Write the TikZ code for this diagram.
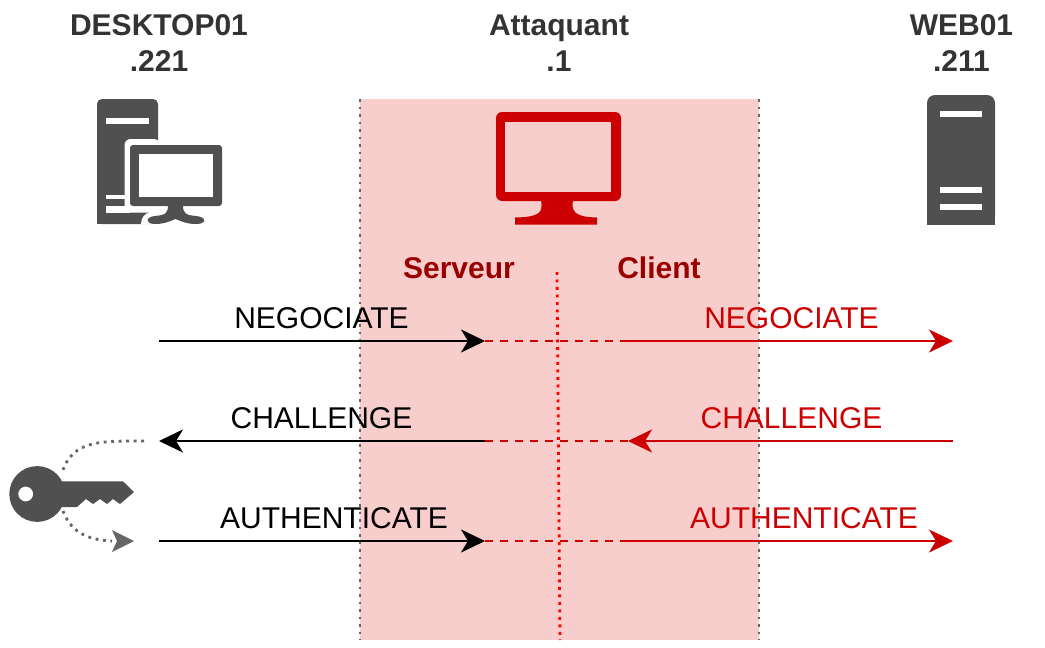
\documentclass[tikz,border=0pt]{standalone}
\usepackage{fontspec}
\setmainfont{Liberation Sans}
\usetikzlibrary{arrows.meta}

\definecolor{darktxt}{HTML}{333333}
\definecolor{icongray}{HTML}{505050}
\definecolor{redline}{HTML}{CC0000}
\definecolor{redtxt}{HTML}{990000}
\definecolor{redzone}{HTML}{F8CECC}
\definecolor{tipgray}{HTML}{666666}

\tikzset{
  title/.style={align=center, font=\fontsize{30}{36}\selectfont\bfseries, text=darktxt, inner sep=0pt},
  side/.style={font=\fontsize{30}{36}\selectfont\bfseries, text=redtxt, inner sep=0pt},
  msg/.style={font=\fontsize{30}{36}\selectfont, inner sep=0pt},
  msgred/.style={msg, text=redline},
  tipbig/.style={-{Stealth[length=24pt,width=23pt,inset=7pt]}},
  blackline/.style={draw=black, line width=2.8pt, tipbig},
  redsolid/.style={draw=redline, line width=2.8pt, tipbig, color=redline},
  reddash/.style={draw=redline, line width=2.8pt, dash pattern=on 8pt off 7pt},
  keypath/.style={draw=tipgray, line width=2.8pt, dash pattern=on 2.8pt off 4.7pt},
  zoneedge/.style={draw=black!60, line width=2.8pt, dash pattern=on 2.8pt off 4.7pt}
}

\begin{document}
\begin{tikzpicture}[x=1pt, y=-1pt]
\useasboundingbox (0,0) rectangle (1045,648);

% zone
\fill[redzone] (360,99) rectangle (759,640);
\coordinate (edge1top) at (360,99);
\coordinate (edge1bot) at (360,640);
\coordinate (edge2top) at (759,99);
\coordinate (edge2bot) at (759,640);
\draw[zoneedge] (edge1top) -- (edge1bot);
\draw[zoneedge] (edge2top) -- (edge2bot);

% titles
\node[title] (desktop) at (159,43) {DESKTOP01\\.221};
\node[title] (attacker) at (559,43) {Attaquant\\.1};
\node[title] (web) at (961.5,43) {WEB01\\.211};

% desktop icon
\fill[icongray, rounded corners=5pt] (97,99) rectangle (158,224);
\fill[icongray] (97,200) rectangle (158,224);
\fill[white] (106,118) rectangle (149,124);
\fill[white] (106,195) rectangle (130,199);
\fill[white] (106,206) rectangle (130,212.5);
\fill[white] (124.5,212.5) [rounded corners=6pt] -- (124.5,139) -- (160,139) [sharp corners] -- (160,212.5) -- cycle;
\fill[white] (150,212) .. controls (144,214) and (141,218) .. (141,224.5) -- (160,224.5) -- (160,212) -- cycle;
\fill[icongray, rounded corners=3pt] (130,145) rectangle (222,206);
\fill[white] (139,154) rectangle (213,197);
\fill[icongray] (168,205) .. controls (168,213) and (166,215) .. (155,216)
  .. controls (145,217) and (145,224) .. (155,224)
  .. controls (165,224) and (170,221) .. (175.5,219)
  .. controls (181,221) and (186,224) .. (196,224)
  .. controls (207,224) and (207,217) .. (196,216)
  .. controls (185,215) and (183,213) .. (183,205) -- cycle;

% attacker icon
\fill[redline, rounded corners=6pt] (496,112) rectangle (621,201);
\fill[redzone] (505,122) rectangle (611,192);
\fill[redline] (541,200) .. controls (543,212) and (541,217) .. (515,217.5)
  -- (515,224.5) -- (597,224.5) -- (597,217.5)
  .. controls (575,217) and (571,212) .. (573,200) -- cycle;

% server icon
\fill[icongray, rounded corners=8pt] (927,95) rectangle (995,224.5);
\fill[icongray] (927,200) rectangle (995,224.5);
\fill[white] (940,111) rectangle (982,117);
\fill[white] (940,187) rectangle (982,193);
\fill[white] (940,204) rectangle (982,210);

% key
\fill[icongray, even odd rule] (37.2,494) circle (27.9) (25.7,494) circle (7.5);
\fill[icongray] (60,481.3) -- (123,481.3) -- (134,492) -- (120,504) -- (113,499) -- (107,504)
  -- (100,499) -- (93,504) -- (86,499) -- (77,507) -- (60,507) -- cycle;

% side labels
\node[side] (serveur) at (459,268) {Serveur};
\node[side] (client) at (659,268) {Client};

% middle line
\coordinate (midtop) at (557,272);
\coordinate (midbot) at (560,640);
\draw[draw=red, line width=2.8pt, dash pattern=on 2.8pt off 4.7pt] (midtop) -- (midbot);

% end points
\coordinate (a1) at (159,341);
\coordinate (b1) at (485,341);
\coordinate (c1) at (621,341);
\coordinate (d1) at (953,341);
\coordinate (a2) at (159,441);
\coordinate (b2) at (485,441);
\coordinate (c2) at (628,441);
\coordinate (d2) at (953,441);
\coordinate (a3) at (159,541);
\coordinate (b3) at (485,541);
\coordinate (c3) at (621,541);
\coordinate (d3) at (953,541);

% messages
\draw[blackline] (a1) -- (b1);
\draw[reddash] (b1) -- (c1);
\draw[redsolid] (c1) -- (d1);
\draw[redsolid] (d2) -- (c2);
\draw[reddash] (c2) -- (b2);
\draw[blackline] (b2) -- (a2);
\draw[blackline] (a3) -- (b3);
\draw[reddash] (b3) -- (c3);
\draw[redsolid] (c3) -- (d3);

\node[msg] (neg1) at (321.5,318) {NEGOCIATE};
\node[msg] (cha1) at (321.5,418) {CHALLENGE};
\node[msg] (aut1) at (334,518) {AUTHENTICATE};
\node[msgred] (neg2) at (791.5,318) {NEGOCIATE};
\node[msgred] (cha2) at (791.5,418) {CHALLENGE};
\node[msgred] (aut2) at (804,518) {AUTHENTICATE};

% key paths
\coordinate (keyin) at (144,441);
\coordinate (keytop) at (62,473);
\coordinate (keybot) at (63,511);
\coordinate (keyout) at (112,541);
\coordinate (keytip) at (134,541);
\draw[keypath] (keyin) .. controls (100,441) and (72,440) .. (keytop);
\draw[keypath] (keybot) .. controls (70,530) and (85,540) .. (keyout);
\fill[tipgray] (keytip) -- (112,530) -- (117,541) -- (112,552) -- cycle;

\end{tikzpicture}
\end{document}
